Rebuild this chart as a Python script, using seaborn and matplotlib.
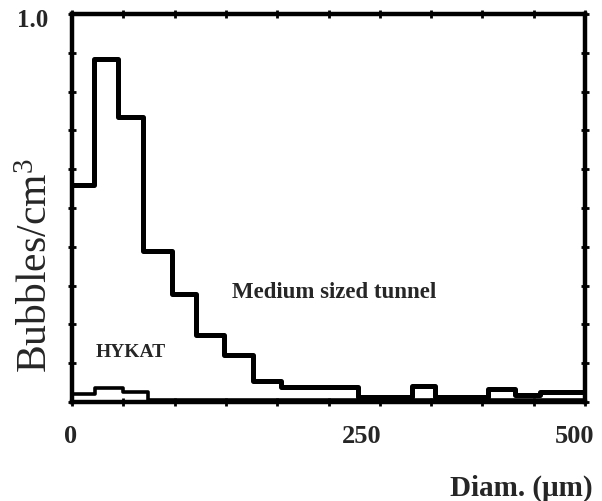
import matplotlib
matplotlib.use("Agg")
import matplotlib.pyplot as plt
import matplotlib.transforms as mtransforms
import seaborn as sns
import pandas as pd
from matplotlib.ticker import FixedLocator, FixedFormatter

# ---- data ----
medium_edges = [0, 21, 45, 69, 97, 121, 148, 176, 204, 279, 331, 354, 405, 432, 456, 500]
medium_values = [0.560, 0.884, 0.734, 0.388, 0.278, 0.173, 0.121, 0.053, 0.038, 0.013, 0.042, 0.014, 0.033, 0.018, 0.026]

hykat_edges = [0, 22, 50, 74, 500]
hykat_values = [0.021, 0.036, 0.026, 0.004]

x_ticks = [0, 50, 100, 150, 200, 250, 300, 350, 400, 450, 500]
x_tick_labels = ["0", "", "", "", "", "250", "", "", "", "", "500"]
y_ticks = [0.0, 0.1, 0.2, 0.3, 0.4, 0.5, 0.6, 0.7, 0.8, 0.9, 1.0]
y_tick_labels = ["", "", "", "", "", "", "", "", "", "", "1.0"]

sns.set_style("ticks")
plt.rcParams["font.family"] = ["Liberation Serif", "DejaVu Serif"]
plt.rcParams["mathtext.default"] = "regular"


def step_frame(edges, values, name):
    ys = list(values) + [values[-1]]
    return pd.DataFrame({"diam": edges, "bubbles": ys, "series": name})


df_med = step_frame(medium_edges, medium_values, "Medium sized tunnel")
df_hyk = step_frame(hykat_edges, hykat_values, "HYKAT")

fig = plt.figure(figsize=(6.02, 5.02), dpi=100)
ax = fig.add_axes([72 / 602, 1 - 403 / 502, (585 - 72) / 602, (403 - 15) / 502])

sns.lineplot(data=df_med, x="diam", y="bubbles", drawstyle="steps-post",
             color="black", linewidth=3.6, ax=ax, legend=False, sort=False)
sns.lineplot(data=df_hyk, x="diam", y="bubbles", drawstyle="steps-post",
             color="black", linewidth=2.6, ax=ax, legend=False, sort=False)

ax.set_xlim(0, 500)
ax.set_ylim(0, 1.0)
ax.set_xlabel("")
ax.set_ylabel("")

for s in ax.spines.values():
    s.set_visible(True)
    s.set_linewidth(3.2)
    s.set_color("black")

ax.xaxis.set_major_locator(FixedLocator(x_ticks))
ax.xaxis.set_major_formatter(FixedFormatter(x_tick_labels))
ax.yaxis.set_major_locator(FixedLocator(y_ticks))
ax.yaxis.set_major_formatter(FixedFormatter(y_tick_labels))

ax.tick_params(axis="both", which="major", direction="inout", length=6, width=2,
               color="black", top=True, right=True)
ax.tick_params(axis="x", pad=13, labelsize=19)
ax.tick_params(axis="y", pad=14, labelsize=18)

# the scanned figure has its tick labels slightly off their ticks
x_label_shift_px = {0: -1, 250: 33, 500: -10}
for tick, val in zip(ax.xaxis.get_major_ticks(), x_ticks):
    lab = tick.label1
    lab.set_fontweight("bold")
    dx = x_label_shift_px.get(val, 0)
    if dx:
        lab.set_transform(lab.get_transform() +
                          mtransforms.ScaledTranslation(dx / 100, 0, fig.dpi_scale_trans))
for tick in ax.yaxis.get_major_ticks():
    lab = tick.label1
    lab.set_fontweight("bold")
    lab.set_transform(lab.get_transform() +
                      mtransforms.ScaledTranslation(0, -3 / 100, fig.dpi_scale_trans))

ax.text(156, 0.285, "Medium sized tunnel", fontsize=16.5, fontweight="bold",
        ha="left", va="center")
ax.text(23, 0.131, "HYKAT", fontsize=14, fontweight="bold", ha="left", va="center")

fig.text(37 / 602, 1 - 266 / 502, r"Bubbles/cm$^{3}$", rotation=90,
         fontsize=30, ha="center", va="center")
fig.text(593 / 602, 1 - 488 / 502, "Diam. (\u03bcm)", fontsize=21,
         fontweight="bold", ha="right", va="center")

fig.savefig("out.png", dpi=100, facecolor="white")
